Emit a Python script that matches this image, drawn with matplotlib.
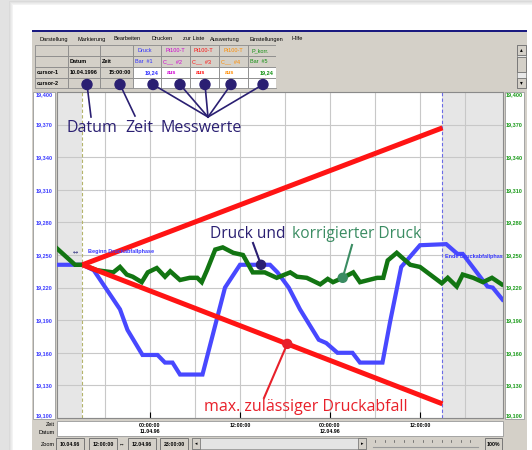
import matplotlib
matplotlib.use("Agg")
import matplotlib.pyplot as plt
import numpy as np
from matplotlib.patches import Rectangle, Circle
from matplotlib.ticker import FixedLocator, FuncFormatter

# ---------------- data (hours since 11.04.96 00:00, pressure in bar) ----------------
druck_t = [-12.4, -9, -7.5, -4, -3, -1, 1, 2, 3, 4, 7, 10, 12, 16, 17, 18.5, 20, 22.5,
           23.5, 25, 27, 28, 31, 32, 33.5, 36, 39.5, 41, 41.7, 45, 45.7, 47]
druck_v = [19.241, 19.241, 19.236, 19.200, 19.181, 19.158, 19.158, 19.151, 19.151, 19.140,
           19.140, 19.220, 19.241, 19.241, 19.234, 19.220, 19.200, 19.172, 19.169, 19.160,
           19.160, 19.151, 19.151, 19.188, 19.239, 19.259, 19.260, 19.251, 19.251, 19.221,
           19.220, 19.209]

pkorr_t = [-12.4, -10, -8.9, -7.1, -4.9, -4, -3.1, -2.3, -1.1, -0.3, 0.9, 2, 2.7, 4, 5.3,
           6.3, 6.9, 7.6, 8.7, 9.7, 11.1, 12.4, 13.7, 15.3, 16.9, 18.7, 19.6, 20.9, 22.7,
           23.7, 24.4, 25.7, 27.1, 28, 30.3, 31.1, 31.7, 32.9, 34.7, 36, 38.9, 39.7, 40.9,
           41.7, 43.1, 44.4, 45.6, 46.9]
pkorr_v = [19.256, 19.241, 19.241, 19.236, 19.234, 19.239, 19.232, 19.230, 19.225, 19.234,
           19.238, 19.230, 19.235, 19.227, 19.229, 19.229, 19.225, 19.236, 19.255, 19.257,
           19.252, 19.250, 19.234, 19.234, 19.229, 19.234, 19.230, 19.229, 19.223, 19.228,
           19.225, 19.229, 19.234, 19.225, 19.229, 19.229, 19.245, 19.252, 19.241, 19.239,
           19.224, 19.229, 19.221, 19.232, 19.229, 19.225, 19.229, 19.223]

limit_t = [-9, 39]            # Beginn / Ende Druckabfallphase
limit_start = 19.241
limit_upper_end = 19.367
limit_lower_end = 19.113

y_ticks = [19.100, 19.130, 19.160, 19.190, 19.220, 19.250, 19.280, 19.310, 19.340, 19.370, 19.400]
x_major = [0, 12, 24, 36]
x_major_labels = ["00:00:00\n11.04.96", "12:00:00", "00:00:00\n12.04.96", "12:00:00"]
x_minor = [-6, 6, 18, 30, 42]

menu_items = ["Darstellung", "Markierung", "Bearbeiten", "Drucken", "zur Liste",
              "Auswertung", "Einstellungen", "Hilfe"]
chan_names = ["Druck", "Pt100-T", "Pt100-T", "Pt100-T", "P_korr."]
chan_units = ["Bar  #1", "C__  #2", "C__  #3", "C__  #4", "Bar  #5"]
chan_vals = ["19,24", "aus", "aus", "aus", "19,24"]
chan_cols = ["#3030ff", "#d000d0", "#ff1010", "#ff8c00", "#109010"]
cursor_date = "10.04.1996"
cursor_time = "15:00:00"

# ---------------- figure ----------------
W, H = 532, 450
fig = plt.figure(figsize=(W / 100, H / 100), dpi=100)
fig.patch.set_facecolor("#e2e2e2")

ui = fig.add_axes([0, 0, 1, 1], zorder=0)
ui.set_xlim(0, W); ui.set_ylim(H, 0); ui.axis("off")

UIF = "Liberation Sans"
GRAY = "#d4d0c8"


def rect(ax, x0, y0, x1, y1, fc, ec="none", lw=0.6, z=1):
    ax.add_patch(Rectangle((x0, y0), x1 - x0, y1 - y0, facecolor=fc, edgecolor=ec,
                           linewidth=lw, zorder=z))


def uitext(x, y, s, color="black", ha="left", size=4.0, bold=False, ax=None):
    (ax or ui).text(x, y, s, color=color, ha=ha, va="center", fontsize=size,
                    family=UIF, fontweight="bold" if bold else "normal", zorder=5)


# card shadow and window
for k, c in enumerate(["#dadada", "#e4e4e4", "#ececec", "#f3f3f3"]):
    rect(ui, 9 + k, 1 + k, W, H, c, z=0.5)
rect(ui, 13, 5, W, H, "white")
rect(ui, 32, 30, 527, H, GRAY)
rect(ui, 32, 30, 527, 32, "#1a1a80", z=2)

# menu bar
menu_x = [39, 77, 114, 152, 183, 210, 249, 291]
for mx, m in zip(menu_x, menu_items):
    uitext(mx, 39, m, size=4.1)

# cursor table
cols = [35, 68, 100, 133, 161, 190, 219, 248, 276]
rows = [45, 56, 67, 78, 88]
for ri in range(4):
    for ci in range(8):
        fc = "white" if (ri >= 2 and ci >= 3) else GRAY
        rect(ui, cols[ci], rows[ri], cols[ci + 1], rows[ri + 1], fc, ec="#8a8a8a", lw=0.6, z=2)
rect(ui, 276, 45, 517, 88, GRAY, z=2)
# scrollbar of table
rect(ui, 517, 45, 526, 88, "#e8e8e8", ec="#8a8a8a", z=2)
rect(ui, 517, 45, 526, 55, GRAY, ec="#707070", z=3)
rect(ui, 517, 57, 526, 72, GRAY, ec="#707070", z=3)
rect(ui, 517, 78, 526, 88, GRAY, ec="#707070", z=3)
ui.text(521.5, 50, "▴", ha="center", va="center", fontsize=4, zorder=4)
ui.text(521.5, 83, "▾", ha="center", va="center", fontsize=4, zorder=4)

uitext(70, 61.5, "Datum", bold=True, size=4.0)
uitext(102, 61.5, "Zeit", bold=True, size=4.0)
uitext(37, 72.5, "cursor-1", bold=True, size=4.0)
uitext(37, 83.5, "cursor-2", bold=True, size=4.0)
uitext(98, 72.5, cursor_date, ha="right", bold=True, size=4.0)
uitext(131, 72.5, cursor_time, ha="right", bold=True, size=4.0)
for i in range(5):
    x0, x1 = cols[3 + i], cols[4 + i]
    uitext(x0 + 4, 50.5, chan_names[i], color=chan_cols[i], size=4.0)
    uitext(x0 + 2, 61.5, chan_units[i], color=chan_cols[i], size=4.0)
    if chan_vals[i] == "aus":
        uitext(x0 + 6, 72.5, chan_vals[i], color=chan_cols[i], bold=True, size=4.0)
    else:
        uitext(x1 - 2, 72.5, chan_vals[i], color=chan_cols[i], ha="right", bold=True, size=4.0)

# y label columns
rect(ui, 33, 92, 55, 419, "white", ec="#9a9a9a", lw=0.6, z=1)
rect(ui, 505, 92, 524, 419, "white", ec="#9a9a9a", lw=0.6, z=1)

# bottom time strip
rect(ui, 57, 421, 503, 436, "white", ec="#9a9a9a", lw=0.6, z=1)
uitext(55, 425, "Zeit", ha="right", size=4.0)
uitext(55, 432, "Datum", ha="right", size=4.0)
uitext(55, 444, "Zoom", ha="right", size=4.0)
for (x0, x1, s) in [(56, 84, "10.04.96"), (89, 117, "12:00:00"),
                    (128, 156, "12.04.96"), (160, 188, "23:00:00")]:
    rect(ui, x0, 438, x1, 450, GRAY, ec="#6a6a6a", lw=0.6, z=2)
    uitext((x0 + x1) / 2, 444, s, ha="center", bold=True, size=3.7)
uitext(122, 444, "↔", ha="center", size=4)
rect(ui, 192, 438, 366, 449, "#e4e4e4", ec="#8a8a8a", lw=0.5, z=2)
rect(ui, 192, 438, 200, 449, GRAY, ec="#6a6a6a", lw=0.5, z=3)
rect(ui, 358, 438, 366, 449, GRAY, ec="#6a6a6a", lw=0.5, z=3)
ui.text(196, 443.5, "◂", ha="center", va="center", fontsize=3.5, zorder=4)
ui.text(362, 443.5, "▸", ha="center", va="center", fontsize=3.5, zorder=4)
for k in range(11):
    ui.plot([375 + k * 9.5, 375 + k * 9.5], [440, 441.5], color="#555555", lw=0.5, zorder=3)
ui.plot([373, 478], [447, 447], color="#9a9a9a", lw=0.8, zorder=3)
rect(ui, 485, 438, 502, 450, GRAY, ec="#6a6a6a", lw=0.6, z=2)
uitext(493.5, 444, "100%", ha="center", bold=True, size=3.7)

# ---------------- plot ----------------
L, R, T, B = 57, 503, 92, 418
ax = fig.add_axes([L / W, (H - B) / H, (R - L) / W, (B - T) / H], zorder=2)
ax.set_xlim(-12.4, 47.07)
ax.set_ylim(19.1, 19.4)
ax.set_facecolor("white")

ax.axvspan(-12.4, limit_t[0], color="#e6e6e6", zorder=0, lw=0)
ax.axvspan(limit_t[1], 47.07, color="#e6e6e6", zorder=0, lw=0)

ax.yaxis.set_major_locator(FixedLocator(y_ticks))
ax.yaxis.set_major_formatter(FuncFormatter(lambda v, p: f"{v:.3f}".replace(".", ",")))
ax.xaxis.set_major_locator(FixedLocator(x_major))
ax.xaxis.set_minor_locator(FixedLocator(x_minor))
ax.set_xticklabels(x_major_labels)
ax.grid(True, which="both", color="#c8c8c8", lw=0.8, zorder=0.5)
ax.set_axisbelow(True)
ax.tick_params(axis="x", which="major", direction="in", length=4, width=0.8, color="black",
               pad=3.5, labelsize=3.8)
ax.tick_params(axis="x", which="minor", length=0)
ax.tick_params(axis="y", length=0, pad=3.2, labelsize=4.0, labelcolor="#3c3cff")
for lab in ax.get_xticklabels():
    lab.set_fontweight("bold"); lab.set_family(UIF); lab.set_linespacing(1.3)
ylabs = ax.get_yticklabels()
for lab in ylabs:
    lab.set_fontweight("bold"); lab.set_family(UIF)
ylabs[0].set_va("bottom")
ylabs[-1].set_va("top")
for s in ax.spines.values():
    s.set_color("#8a8a8a"); s.set_linewidth(0.8)

ax2 = ax.twinx()
ax2.set_ylim(ax.get_ylim())
ax2.yaxis.set_major_locator(FixedLocator(y_ticks))
ax2.yaxis.set_major_formatter(FuncFormatter(lambda v, p: f"{v:.3f}".replace(".", ",")))
ax2.tick_params(axis="y", length=0, pad=1.8, labelsize=4.0, labelcolor="#1a9a1a")
y2 = ax2.get_yticklabels()
for lab in y2:
    lab.set_fontweight("bold"); lab.set_family(UIF)
y2[0].set_va("bottom"); y2[-1].set_va("top")
for s in ax2.spines.values():
    s.set_visible(False)

ax.axvline(limit_t[0], color="#b4b46a", lw=0.8, ls=(0, (3, 2)), zorder=1)
ax.axvline(limit_t[1], color="#6a6ae6", lw=0.8, ls=(0, (3, 2)), zorder=1)

ax.plot(druck_t, druck_v, color="#4848ff", lw=3.0, zorder=3, solid_joinstyle="miter")
ax.plot(pkorr_t, pkorr_v, color="#127512", lw=3.2, zorder=4, solid_joinstyle="miter")
ax.plot(limit_t, [limit_start, limit_upper_end], color="#ff1414", lw=3.6, zorder=5,
        solid_capstyle="butt")
ax.plot(limit_t, [limit_start, limit_lower_end], color="#ff1414", lw=3.6, zorder=5,
        solid_capstyle="butt")

ax.text(limit_t[0] - 1.3, 19.253, "↔", color="#303080", fontsize=4.5, va="center",
        ha="left", zorder=6)
ax.text(limit_t[0] + 0.8, 19.2535, "Beginn Druckabfallphase", color="#3a3aff", fontsize=4,
        va="center", ha="left", zorder=6, family=UIF, fontweight="bold")
ax.text(limit_t[1] + 0.4, 19.2485, "Ende Druckabfallphase", color="#3a3aff", fontsize=4,
        va="center", ha="left", zorder=6, family=UIF, fontweight="bold", clip_on=True)

# ---------------- annotation overlay ----------------
ov = fig.add_axes([0, 0, 1, 1], zorder=3)
ov.set_xlim(0, W); ov.set_ylim(H, 0); ov.axis("off"); ov.patch.set_alpha(0)


def to_px(x, y):
    dx, dy = ax.transData.transform((x, y))
    return dx, H - dy


NAVY = "#2a1f72"
AF = "Open Sans"
circ_x = [87, 120, 153, 180, 205, 231, 263]
for cx in circ_x:
    ov.add_patch(Circle((cx, 84.5), 5, color=NAVY, zorder=6))
ov.plot([87, 91], [84.5, 117], color=NAVY, lw=1.2, zorder=5)
ov.plot([120, 135], [84.5, 116], color=NAVY, lw=1.2, zorder=5)
for cx in circ_x[2:]:
    ov.plot([cx, 208], [84.5, 117], color=NAVY, lw=1.2, zorder=5)
ov.text(92, 128.5, "Datum", color=NAVY, fontsize=11.5, ha="center", va="center", family=AF)
ov.text(139, 128.5, "Zeit", color=NAVY, fontsize=11.5, ha="center", va="center", family=AF)
ov.text(201, 128.5, "Messwerte", color=NAVY, fontsize=11.5, ha="center", va="center", family=AF)

# Druck / korrigierter Druck
bt = 14.8
bx, by = to_px(bt, np.interp(bt, druck_t, druck_v))
ov.add_patch(Circle((bx, by), 4.5, color=NAVY, zorder=6))
ov.plot([253, bx], [243, by], color=NAVY, lw=1.5, zorder=5)
gt = 25.7
gx, gy = to_px(gt, np.interp(gt, pkorr_t, pkorr_v))
GREENT = "#3a8c62"
ov.add_patch(Circle((gx, gy), 4.5, color=GREENT, zorder=6))
ov.plot([352, gx], [245, gy], color=GREENT, lw=1.5, zorder=5)
ov.text(210, 234, "Druck und", color=NAVY, fontsize=11.2, ha="left", va="center",
        family=AF)
ov.text(292, 234, "korrigierter Druck", color=GREENT, fontsize=11.2, ha="left",
        va="center", family=AF)

# max. zulässiger Druckabfall
rt = 18.3
rv = np.interp(rt, limit_t, [limit_start, limit_lower_end])
rx, ry = to_px(rt, rv)
REDT = "#e8202a"
ov.add_patch(Circle((rx, ry), 4.5, color=REDT, zorder=6))
ov.plot([rx, 264], [ry, 398], color=REDT, lw=1.5, zorder=5)
ov.text(306, 407, "max. zulässiger Druckabfall", color=REDT, fontsize=11.5, ha="center",
        va="center", family=AF)

fig.savefig("out.png", dpi=100, facecolor=fig.get_facecolor())
